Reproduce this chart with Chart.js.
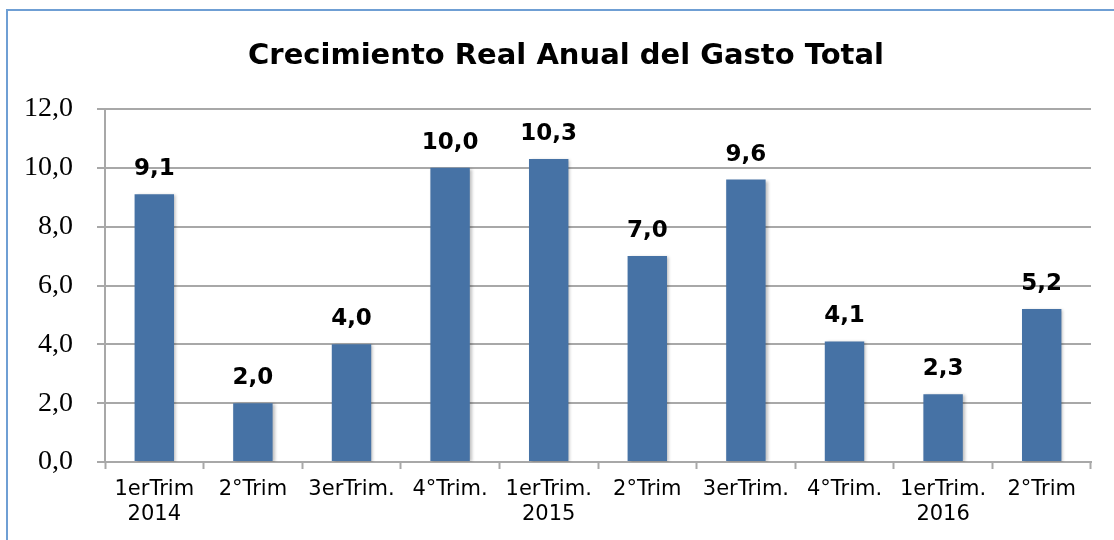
<!DOCTYPE html>
<html>
<head>
<meta charset="utf-8">
<script src="https://cdn.jsdelivr.net/npm/chart.js@4.4.1/dist/chart.umd.min.js"></script>
<style>
  html, body { margin: 0; padding: 0; background: #fff; }
  #wrap { position: relative; width: 1114px; height: 540px; overflow: hidden; }
  #frame {
    position: absolute; left: 6px; top: 9px; width: 1200px; height: 600px;
    border-left: 2px solid #6f9fd4; border-top: 2px solid #6f9fd4;
    box-sizing: border-box;
  }
  canvas { position: absolute; left: 0; top: 0; }
</style>
</head>
<body>
<div id="wrap">
  <div id="frame"></div>
  <canvas id="gastoChart" width="1114" height="540"></canvas>
</div>
<script>
// Chart data
const chartTitle = "Crecimiento Real Anual del Gasto Total";
const categories = [
  ["1erTrim", "2014"],
  "2°Trim",
  "3erTrim.",
  "4°Trim.",
  ["1erTrim.", "2015"],
  "2°Trim",
  "3erTrim.",
  "4°Trim.",
  ["1erTrim.", "2016"],
  "2°Trim",
];
const growthValues = [9.1, 2.0, 4.0, 10.0, 10.3, 7.0, 9.6, 4.1, 2.3, 5.2];
const yTicks = [0, 2, 4, 6, 8, 10, 12];

const gridGray = "#a8a8a8";

// Format numbers with a decimal comma
function fmt(v) {
  return v.toFixed(1).replace(".", ",");
}

// Title drawn over the whole picture
const titlePlugin = {
  id: "titleText",
  afterDraw(chart) {
    const ctx = chart.ctx;
    ctx.save();
    ctx.font = "bold 29px 'DejaVu Sans'";
    ctx.fillStyle = "#000";
    ctx.textAlign = "center";
    ctx.textBaseline = "alphabetic";
    ctx.fillText(chartTitle, 566, 64);
    ctx.restore();
  },
};

// Value labels above each bar
const valueLabels = {
  id: "valueLabels",
  afterDatasetsDraw(chart) {
    const ctx = chart.ctx;
    const meta = chart.getDatasetMeta(0);
    ctx.save();
    ctx.font = "bold 23px 'DejaVu Sans'";
    ctx.fillStyle = "#000";
    ctx.textAlign = "center";
    ctx.textBaseline = "alphabetic";
    meta.data.forEach((bar, i) => {
      ctx.fillText(fmt(growthValues[i]), bar.x, bar.y - 19);
    });
    ctx.restore();
  },
};

// Soft shadow behind bars
const barShadow = {
  id: "barShadow",
  beforeDatasetsDraw(chart) {
    const ctx = chart.ctx;
    ctx.save();
    ctx.shadowColor = "rgba(0,0,0,0.25)";
    ctx.shadowBlur = 3;
    ctx.shadowOffsetX = 2;
    ctx.shadowOffsetY = 1;
  },
  afterDatasetsDraw(chart) {
    chart.ctx.restore();
  },
};

const ctx = document.getElementById("gastoChart").getContext("2d");
const gastoChart = new Chart(ctx, {
  type: "bar",
  data: {
    labels: categories,
    datasets: [
      {
        data: growthValues,
        backgroundColor: "#4672a5",
        borderWidth: 0,
        categoryPercentage: 1.0,
        barPercentage: 0.4,
      },
    ],
  },
  options: {
    responsive: false,
    animation: false,
    layout: {
      padding: { top: 109, right: 23, bottom: 0, left: 0 },
    },
    plugins: {
      legend: { display: false },
      title: { display: false },
      tooltip: { enabled: false },
    },
    scales: {
      x: {
        afterFit(scale) {
          scale.height = 78;
        },
        grid: {
          display: true,
          drawOnChartArea: false,
          drawTicks: true,
          tickLength: 7,
          tickColor: gridGray,
          tickWidth: 2,
          offset: true,
        },
        border: { display: true, color: gridGray, width: 2 },
        ticks: {
          color: "#000",
          padding: 8,
          maxRotation: 0,
          autoSkip: false,
          font: { family: "'DejaVu Sans'", size: 21, lineHeight: 1.2 },
        },
      },
      y: {
        min: 0,
        max: 12,
        afterFit(scale) {
          scale.width = 105;
        },
        afterBuildTicks(scale) {
          scale.ticks = yTicks.map((v) => ({ value: v }));
        },
        grid: {
          color: gridGray,
          lineWidth: 2,
          drawTicks: true,
          tickLength: 8,
          tickColor: gridGray,
        },
        border: { display: true, color: gridGray, width: 2 },
        ticks: {
          color: "#000",
          padding: 24,
          callback: (value) => fmt(value),
          font: { family: "'Liberation Serif'", size: 28 },
        },
      },
    },
  },
  plugins: [barShadow, valueLabels, titlePlugin],
});
</script>
</body>
</html>
